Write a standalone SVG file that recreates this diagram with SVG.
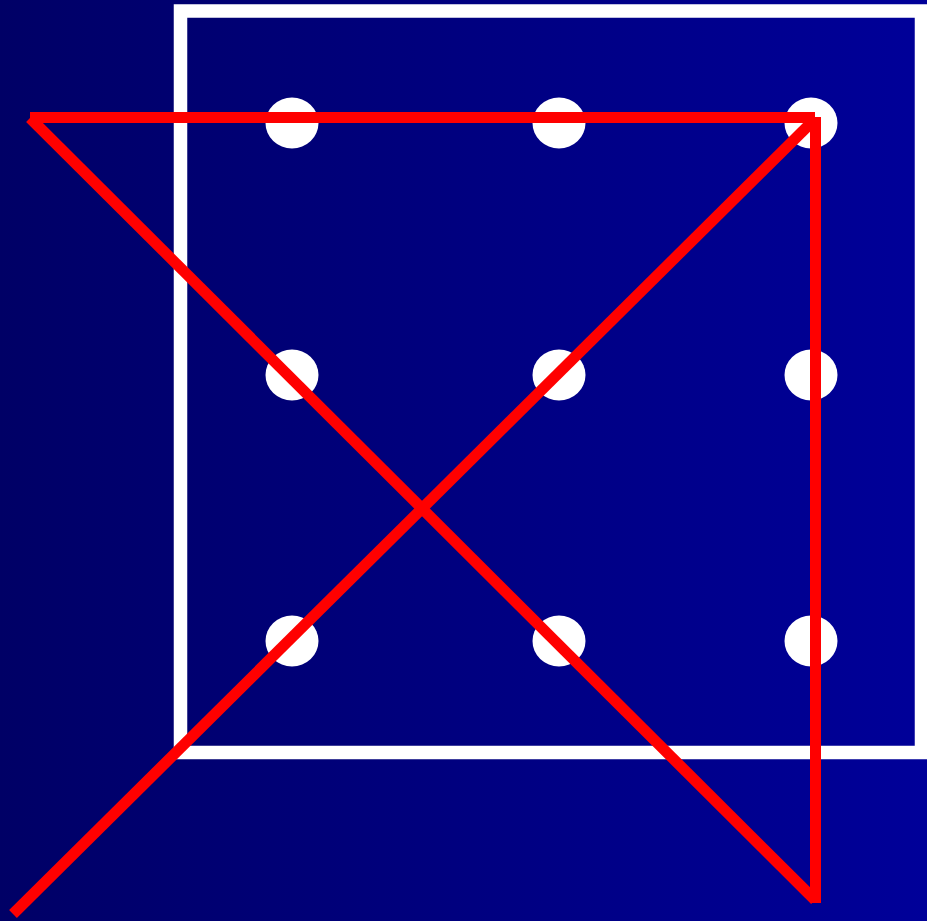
<svg xmlns="http://www.w3.org/2000/svg" width="927" height="921" viewBox="0 0 927 921">
<defs>
<linearGradient id="bg" x1="0" y1="0" x2="1" y2="0">
<stop offset="0" stop-color="#000066"/>
<stop offset="1" stop-color="#000099"/>
</linearGradient>
<style>
.dot{fill:#ffffff}
.red{stroke:#ff0000;stroke-width:11;fill:none}
</style>
</defs>
<rect x="0" y="0" width="927" height="921" fill="url(#bg)"/>
<rect id="frame" x="180.5" y="11" width="741" height="741.5" fill="none" stroke="#ffffff" stroke-width="13.5"/>
<g id="dots">
<g id="d11"><ellipse class="dot" cx="292" cy="123" rx="26.5" ry="25.5"/></g>
<g id="d12"><ellipse class="dot" cx="559" cy="123" rx="26.5" ry="25.5"/></g>
<g id="d13"><ellipse class="dot" cx="811" cy="123" rx="26.5" ry="25.5"/></g>
<g id="d21"><ellipse class="dot" cx="292" cy="375" rx="26.5" ry="25.5"/></g>
<g id="d22"><ellipse class="dot" cx="559" cy="375" rx="26.5" ry="25.5"/></g>
<g id="d23"><ellipse class="dot" cx="811" cy="375" rx="26.5" ry="25.5"/></g>
<g id="d31"><ellipse class="dot" cx="292" cy="641" rx="26.5" ry="25.5"/></g>
<g id="d32"><ellipse class="dot" cx="559" cy="641" rx="26.5" ry="25.5"/></g>
<g id="d33"><ellipse class="dot" cx="811" cy="641" rx="26.5" ry="25.5"/></g>
</g>
<g id="connectors">
<line class="red" x1="30" y1="117.5" x2="815" y2="117.5"/>
<line class="red" x1="815.5" y1="117" x2="815.5" y2="903"/>
<line class="red" x1="30" y1="118" x2="815" y2="900"/>
<line class="red" x1="13" y1="914" x2="815" y2="119"/>
</g>
</svg>
